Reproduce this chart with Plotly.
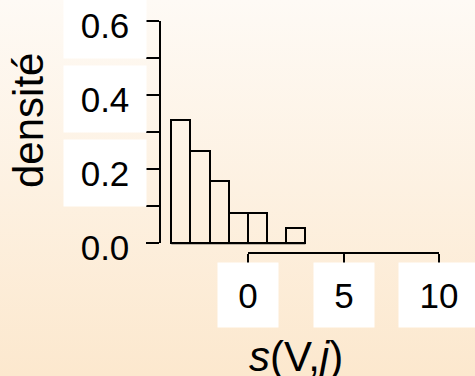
import base64
import plotly.graph_objects as go

# ---------------- data ----------------
bin_left = [-4, -3, -2, -1, 0, 1, 2]
bin_width = 1
density = [0.333, 0.25, 0.167, 0.083, 0.083, 0.0, 0.042]
x_tick_vals = [0, 5, 10]
x_tick_labels = ["0", "5", "10"]
y_tick_vals = [0, 0.1, 0.2, 0.3, 0.4, 0.5, 0.6]
y_label_vals = [0.0, 0.2, 0.4, 0.6]
y_tick_labels = ["0.0", "0.2", "0.4", "0.6"]
x_title = "<i>s</i>(V,<i>j</i>)"
y_title = "densité"

# ---------------- geometry ----------------
W, H = 475, 376
X0_PX, X_SCALE = 247.9, 19.15   # pixel of x=0, px per unit
Y0_PX, Y_SCALE = 243.3, 371.0   # pixel of y=0, px per unit
YAX_PX = 160.0                  # y axis line position
XAX_PX = 253.3                  # x axis line position


def pxx(x):
    return x / W


def pxy(y):
    return 1 - y / H


FONT = "Liberation Sans, Arial, sans-serif"
TICK_SIZE = 35
TITLE_SIZE = 42

fig = go.Figure()

centers = [l + bin_width / 2 for l in bin_left]
fig.add_trace(go.Bar(
    x=centers, y=density, width=bin_width,
    marker=dict(color="rgba(0,0,0,0)", line=dict(color="black", width=2)),
    xaxis="x", yaxis="y", showlegend=False, hoverinfo="skip",
))
# histogram baseline across all bins
fig.add_trace(go.Scatter(
    x=[bin_left[0], bin_left[-1] + bin_width], y=[0, 0], mode="lines",
    line=dict(color="black", width=2), xaxis="x", yaxis="y",
    showlegend=False, hoverinfo="skip",
))
# empty traces to register the visible axes
fig.add_trace(go.Scatter(x=[None], y=[None], xaxis="x2", yaxis="y", showlegend=False))
fig.add_trace(go.Scatter(x=[None], y=[None], xaxis="x", yaxis="y2", showlegend=False))

svg = ('<svg xmlns="http://www.w3.org/2000/svg" width="475" height="376" '
       'preserveAspectRatio="none"><defs><linearGradient id="g" x1="0" y1="0" '
       'x2="0" y2="1"><stop offset="0" stop-color="#FEFAF5"/>'
       '<stop offset="1" stop-color="#FCE8CE"/></linearGradient></defs>'
       '<rect width="100%" height="100%" fill="url(#g)"/></svg>')
src = "data:image/svg+xml;base64," + base64.b64encode(svg.encode()).decode()

xr = [(0 - X0_PX) / X_SCALE, (W - X0_PX) / X_SCALE]
yr = [(Y0_PX - H) / Y_SCALE, Y0_PX / Y_SCALE]

annotations = []
for v, lbl in zip(x_tick_vals, x_tick_labels):
    annotations.append(dict(
        x=v, xref="x2", y=pxy(295), yref="paper", text=lbl, showarrow=False,
        xanchor="center", yanchor="middle", bgcolor="white", borderpad=0,
        width=20 * len(lbl) + 40, height=64,
        font=dict(family=FONT, size=TICK_SIZE, color="black"),
    ))
for v, lbl in zip(y_label_vals, y_tick_labels):
    annotations.append(dict(
        x=pxx(147), xref="paper", y=v, yref="y2", yshift=-4, text=lbl,
        showarrow=False, xanchor="right", yanchor="middle",
        bgcolor="white" if v > 0 else "rgba(0,0,0,0)", borderpad=0,
        width=82, height=66,
        font=dict(family=FONT, size=TICK_SIZE, color="black"),
    ))
annotations.append(dict(
    x=pxx(296), xref="paper", y=pxy(356), yref="paper", text=x_title,
    showarrow=False, xanchor="center", yanchor="middle",
    font=dict(family=FONT, size=TITLE_SIZE, color="black"),
))
annotations.append(dict(
    x=pxx(29), xref="paper", y=pxy(121), yref="paper", text=y_title,
    showarrow=False, xanchor="center", yanchor="middle", textangle=-90,
    font=dict(family=FONT, size=TITLE_SIZE, color="black"),
))

fig.update_layout(
    width=W, height=H, margin=dict(l=0, r=0, t=0, b=0, pad=0),
    paper_bgcolor="#FDF1E2", plot_bgcolor="rgba(0,0,0,0)",
    showlegend=False, bargap=0,
    images=[dict(source=src, xref="paper", yref="paper", x=0, y=1,
                 sizex=1, sizey=1, sizing="stretch", layer="below",
                 xanchor="left", yanchor="top")],
    xaxis=dict(domain=[0, 1], range=xr, visible=False, fixedrange=True),
    yaxis=dict(domain=[0, 1], range=yr, visible=False, fixedrange=True),
    xaxis2=dict(
        domain=[pxx(X0_PX), pxx(X0_PX + 10 * X_SCALE)], range=[0, 10],
        anchor="free", position=pxy(XAX_PX), side="bottom",
        showline=True, linecolor="black", linewidth=2,
        ticks="outside", ticklen=12, tickwidth=2, tickcolor="black",
        tickvals=x_tick_vals, showticklabels=False,
        showgrid=False, zeroline=False, fixedrange=True,
    ),
    yaxis2=dict(
        domain=[pxy(Y0_PX), pxy(Y0_PX - 0.6 * Y_SCALE)], range=[0, 0.6],
        anchor="free", position=pxx(YAX_PX), side="left",
        showline=True, linecolor="black", linewidth=2,
        ticks="outside", ticklen=13, tickwidth=2, tickcolor="black",
        tickvals=y_tick_vals, showticklabels=False,
        showgrid=False, zeroline=False, fixedrange=True,
    ),
    annotations=annotations,
)

fig.write_html(
    "out.html",
    config={"displayModeBar": False},
    post_script="document.body.style.margin='0';document.body.style.padding='0';",
)
